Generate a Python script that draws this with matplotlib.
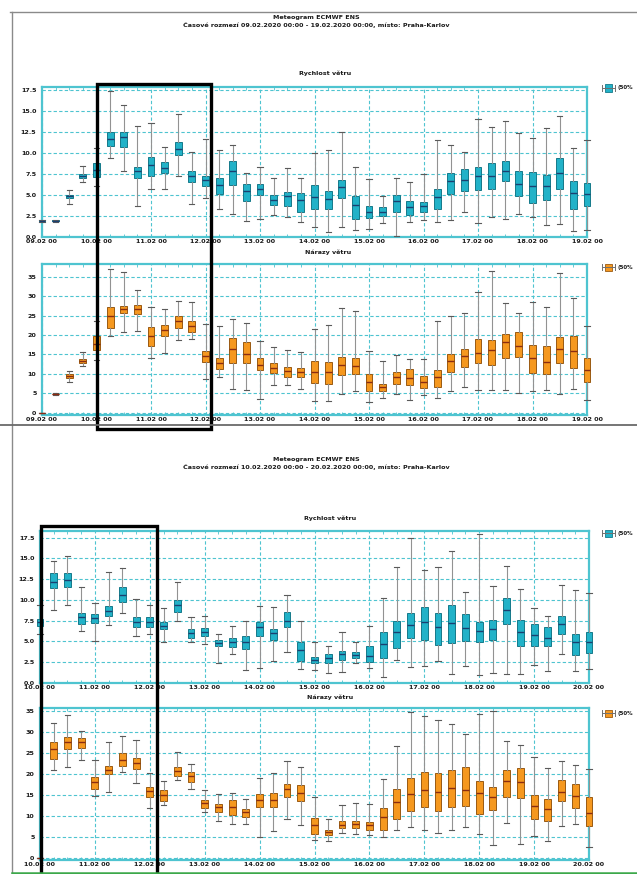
import matplotlib
matplotlib.use('Agg')
import matplotlib.pyplot as plt
from matplotlib.patches import Rectangle
from matplotlib.lines import Line2D

# ---------------- data ----------------
days_top = ['09.02 00', '10.02 00', '11.02 00', '12.02 00', '13.02 00', '14.02 00',
            '15.02 00', '16.02 00', '17.02 00', '18.02 00', '19.02 00']
days_bot = ['10.02 00', '11.02 00', '12.02 00', '13.02 00', '14.02 00', '15.02 00',
            '16.02 00', '17.02 00', '18.02 00', '19.02 00', '20.02 00']

# Top meteogram - wind speed (m/s)
ws1_lo = [1.8, 1.8, 3.9, 6.5, 6.05, 9.4, 7.9, 3.7, 5.65, 5.7, 7.2, 3.9, 4.6, 3.3, 2.7, 1.9, 2.05, 2.6, 2.3, 1.7,
          1.2, 0.55, 1.15, 0.75, 0.9, 1.6, 0.1, 1.8, 2.0, 1.8, 1.95, 2.9, 1.6, 2.4, 2.1, 2.75, 2.3, 1.4, 1.5, 0.7, 0.75]
ws1_q1 = [1.85, 1.85, 4.6, 7.0, 7.1, 10.8, 10.75, 7.05, 7.3, 7.6, 9.8, 6.5, 6.0, 5.05, 6.15, 4.3, 5.0, 3.75, 3.7, 3.0,
          3.25, 3.25, 4.65, 2.15, 2.25, 2.45, 2.95, 2.6, 3.0, 3.25, 5.1, 5.5, 5.55, 5.65, 6.65, 4.8, 4.0, 4.4, 5.75, 3.35, 3.6]
ws1_med = [1.9, 1.9, 4.8, 7.2, 7.95, 11.65, 11.9, 7.8, 8.6, 8.2, 10.5, 7.2, 6.8, 6.2, 7.8, 5.5, 5.7, 4.4, 4.8, 4.4,
           4.7, 4.5, 5.9, 3.8, 3.0, 3.0, 4.2, 3.5, 3.6, 4.7, 6.6, 6.8, 7.2, 7.2, 7.85, 6.25, 6.0, 6.0, 7.6, 5.2, 5.1]
ws1_q3 = [1.95, 1.95, 5.0, 7.5, 8.75, 12.5, 12.55, 8.35, 9.55, 8.9, 11.3, 7.8, 7.3, 7.0, 9.0, 6.35, 6.3, 5.0, 5.35, 5.2,
          6.2, 5.5, 6.75, 4.8, 3.6, 3.55, 4.95, 4.3, 4.1, 5.65, 7.6, 8.05, 8.35, 8.85, 9.0, 7.8, 7.7, 7.35, 9.45, 6.7, 6.4]
ws1_hi = [2.0, 2.0, 5.6, 8.4, 10.6, 17.4, 15.7, 13.25, 13.6, 10.75, 14.7, 10.1, 11.65, 10.35, 10.9, 7.55, 8.35, 7.0, 8.2, 7.0,
          10.0, 10.35, 12.55, 8.35, 6.9, 4.8, 7.05, 6.55, 7.45, 11.6, 10.9, 10.1, 14.1, 13.1, 13.8, 12.45, 11.75, 13.05, 14.4, 10.55, 11.5]

# Top meteogram - wind gusts (m/s)
wg1_lo = [0.0, 4.6, 7.9, 12.0, 13.5, 19.7, 20.9, 21.0, 14.1, 15.4, 18.6, 19.1, 8.8, 9.2, 6.0, 5.8, 3.6, 7.0, 7.0, 6.1,
          2.9, 2.9, 4.7, 5.6, 2.75, 3.75, 4.7, 3.35, 4.6, 3.85, 5.6, 6.6, 5.8, 5.8, 5.8, 5.1, 5.7, 5.8, 4.8, 6.0, 3.25]
wg1_q1 = [0.0, 4.7, 9.0, 12.8, 16.1, 21.8, 25.7, 25.3, 17.3, 19.7, 21.7, 20.7, 13.1, 11.3, 12.8, 12.7, 10.95, 10.1, 9.25, 9.25,
          7.7, 7.35, 9.6, 9.9, 5.5, 5.65, 7.45, 7.0, 6.4, 6.5, 10.5, 11.7, 12.75, 12.2, 14.2, 14.4, 10.25, 9.85, 12.75, 11.6, 7.9]
wg1_med = [0.0, 4.8, 9.4, 13.4, 17.8, 24.8, 26.6, 26.6, 19.8, 21.2, 23.5, 22.2, 14.5, 12.8, 16.5, 15.2, 12.4, 11.55, 10.8, 10.35,
           10.6, 10.5, 12.4, 12.05, 7.8, 6.7, 9.25, 9.0, 7.95, 9.15, 13.35, 14.5, 15.4, 16.25, 18.1, 17.1, 14.2, 13.1, 16.5, 15.8, 11.1]
wg1_q3 = [0.0, 4.9, 9.9, 13.9, 19.75, 27.2, 27.5, 27.8, 22.1, 22.5, 25.0, 23.7, 15.8, 14.0, 19.2, 18.2, 14.0, 12.75, 11.8, 11.4,
          13.4, 13.0, 14.4, 14.0, 9.85, 7.45, 10.6, 11.2, 9.4, 10.95, 15.2, 16.3, 18.9, 18.8, 20.3, 20.8, 17.45, 17.1, 19.5, 19.85, 14.2]
wg1_hi = [0.0, 5.0, 10.8, 15.65, 23.5, 37.1, 36.2, 31.7, 27.1, 26.7, 28.7, 28.4, 22.9, 22.2, 24.1, 23.2, 18.5, 16.8, 16.25, 15.6,
          21.6, 22.6, 27.0, 26.3, 16.0, 13.2, 14.9, 13.8, 13.9, 23.5, 24.9, 25.8, 31.05, 36.6, 28.2, 25.8, 28.5, 27.3, 35.9, 29.6, 22.3]

# Bottom meteogram - wind speed (m/s)
ws2_lo = [5.95, 8.75, 9.35, 6.25, 5.0, 7.0, 8.45, 5.7, 5.9, 4.95, 7.45, 4.95, 4.7, 2.35, 3.5, 1.6, 1.8, 2.65, 3.75, 1.7,
          1.6, 1.25, 1.35, 2.4, 1.85, 0.7, 2.75, 1.9, 2.0, 2.6, 1.1, 2.0, 0.95, 1.2, 1.1, 1.1, 2.15, 1.4, 3.55, 1.5, 1.65]
ws2_q1 = [6.9, 11.4, 11.6, 7.15, 7.2, 8.05, 9.75, 6.7, 6.8, 6.45, 8.6, 5.45, 5.65, 4.4, 4.35, 4.15, 5.7, 5.15, 6.8, 2.65,
          2.4, 2.45, 2.8, 2.95, 2.5, 3.0, 4.25, 5.4, 5.2, 4.55, 4.85, 5.0, 4.95, 5.2, 7.15, 4.5, 4.45, 4.5, 5.9, 3.35, 3.65]
ws2_med = [7.3, 12.1, 12.45, 7.9, 7.8, 8.7, 10.6, 7.4, 7.4, 6.9, 9.35, 6.0, 6.15, 4.85, 4.95, 4.9, 6.8, 6.0, 7.5, 3.95,
           2.8, 3.0, 3.5, 3.35, 3.2, 4.7, 6.2, 7.0, 7.4, 6.8, 7.2, 6.6, 6.3, 6.5, 8.75, 6.1, 5.8, 5.4, 7.05, 4.95, 4.95]
ws2_q3 = [7.7, 13.2, 13.2, 8.45, 8.25, 9.25, 11.55, 7.95, 7.95, 7.3, 10.0, 6.55, 6.6, 5.2, 5.4, 5.7, 7.35, 6.5, 8.5, 4.95,
          3.15, 3.5, 3.9, 3.75, 4.4, 6.1, 7.45, 8.4, 9.2, 8.4, 9.4, 8.35, 7.35, 7.55, 10.2, 7.6, 7.05, 6.8, 8.05, 5.9, 6.2]
ws2_hi = [9.4, 14.7, 15.3, 11.6, 9.65, 13.4, 13.9, 10.1, 9.35, 9.0, 12.15, 7.9, 8.05, 5.9, 6.85, 7.45, 9.25, 9.15, 10.65, 7.5,
          4.95, 4.5, 6.2, 4.95, 6.85, 10.25, 13.95, 17.5, 13.55, 13.95, 15.9, 10.9, 17.95, 11.7, 14.05, 11.3, 9.0, 8.05, 11.85, 11.15, 10.85]

# Bottom meteogram - wind gusts (m/s)
wg2_lo = [0.0, 21.05, 21.7, 23.45, 14.8, 15.8, 20.4, 17.85, 12.0, 12.55, 18.5, 16.5, 10.95, 8.8, 8.0, 8.1, 5.05, 6.5, 9.35, 7.9,
          4.3, 4.1, 6.0, 5.85, 5.5, 5.05, 6.65, 7.35, 6.65, 6.0, 6.65, 7.45, 5.85, 3.05, 8.4, 3.3, 5.2, 4.0, 7.6, 8.0, 2.65]
wg2_q1 = [0.0, 23.6, 26.0, 26.25, 16.5, 20.1, 22.0, 21.3, 14.5, 13.6, 19.6, 18.2, 11.9, 11.05, 10.3, 9.7, 12.1, 12.1, 14.65, 13.7,
          5.85, 5.6, 7.05, 7.2, 6.8, 6.8, 9.2, 11.3, 12.1, 11.2, 12.2, 12.5, 10.55, 11.45, 14.65, 14.2, 9.2, 8.8, 13.55, 12.0, 7.7]
wg2_med = [0.0, 25.85, 27.7, 27.6, 18.0, 21.05, 23.45, 22.65, 16.0, 14.9, 20.65, 19.45, 13.0, 12.1, 12.25, 10.9, 13.85, 13.85, 16.5, 15.55,
           7.85, 6.25, 7.9, 8.0, 7.85, 9.85, 13.45, 15.2, 16.2, 15.8, 16.65, 16.25, 15.45, 14.5, 18.25, 18.0, 12.4, 11.75, 15.8, 14.8, 10.65]
wg2_q3 = [0.0, 27.6, 28.8, 28.65, 19.3, 21.85, 24.9, 23.85, 16.9, 16.1, 21.7, 20.4, 13.85, 12.9, 13.75, 11.6, 15.3, 15.4, 17.7, 17.3,
          9.5, 6.8, 8.9, 8.8, 8.65, 12.0, 16.5, 19.05, 20.5, 20.35, 20.9, 21.7, 18.4, 16.9, 21.05, 21.4, 14.9, 14.0, 18.65, 17.6, 14.65]
wg2_hi = [0.0, 32.1, 34.0, 30.25, 23.3, 27.7, 29.05, 28.0, 20.25, 18.4, 25.2, 22.4, 16.1, 15.2, 15.5, 14.1, 19.1, 20.25, 23.15, 21.7,
          14.6, 9.2, 12.65, 13.05, 12.95, 18.9, 26.65, 34.65, 33.7, 32.9, 31.9, 29.4, 34.2, 34.9, 27.8, 26.8, 24.1, 21.4, 23.0, 22.2, 21.3]

ws_ticks = [0.0, 2.5, 5.0, 7.5, 10.0, 12.5, 15.0, 17.5]
ws_labels = ['0.0', '2.5', '5.0', '7.5', '10.0', '12.5', '15.0', '17.5']
wg_ticks = [0, 5, 10, 15, 20, 25, 30, 35]
wg_labels = ['0', '5', '10', '15', '20', '25', '30', '35']
legend_label = '(50%'

# ---------------- figure ----------------
W, H = 637, 874
fig = plt.figure(figsize=(W / 100, H / 100), dpi=100)
fig.patch.set_facecolor('white')

TEAL = '#4ec4d0'
FONT = dict(fontsize=4.6, fontweight='bold', color='#1a1a1a')


def rect(l, t, r, b):
    return [l / W, 1 - b / H, (r - l) / W, (b - t) / H]


def fx(x):
    return x / W


def fy(y):
    return 1 - y / H


def panel(pos, lo, q1, med, q3, hi, ylim, yticks, ylabels, xlabels, face, edge, medc):
    ax = fig.add_axes(rect(*pos))
    stats = [dict(whislo=a, q1=b, med=c, q3=d, whishi=e)
             for a, b, c, d, e in zip(lo, q1, med, q3, hi)]
    art = ax.bxp(stats, positions=list(range(len(stats))), widths=0.5, capwidths=0.38,
                 patch_artist=True, showfliers=False, manage_ticks=False,
                 boxprops=dict(facecolor=face, edgecolor=edge, linewidth=0.7),
                 whiskerprops=dict(color='#929292', linewidth=0.8),
                 capprops=dict(color='#5a5a5a', linewidth=0.8),
                 medianprops=dict(color=medc, linewidth=1.0))
    for k, v in art.items():
        for a in v:
            a.set_clip_on(False)
            a.set_zorder(3)
    n = len(stats) - 1
    ax.set_xlim(0, n)
    ax.set_ylim(*ylim)
    ax.set_xticks(list(range(0, n + 1, 4)))
    ax.set_xticklabels(xlabels, **FONT)
    ax.set_xticks(list(range(0, n + 1)), minor=True)
    ax.set_yticks(yticks)
    ax.set_yticklabels(ylabels, **FONT)
    ax.tick_params(axis='y', length=0, pad=4)
    ax.tick_params(axis='x', which='major', length=0, pad=1.5)
    ax.tick_params(axis='x', which='minor', direction='in', length=2.5, width=0.6,
                   color=TEAL, top=True, bottom=True)
    ax.set_axisbelow(True)
    ax.grid(True, which='major', color=TEAL, linestyle=(0, (3, 2)), linewidth=0.8)
    for s in ax.spines.values():
        s.set_color(TEAL)
        s.set_linewidth(1.6)
        s.set_zorder(2)
    return ax


TFACE, TEDGE, TMED = '#22b2c8', '#157a8a', '#1b3f70'
OFACE, OEDGE, OMED = '#f5981f', '#9a5a12', '#8a2c12'

panel((42, 87, 587, 237), ws1_lo, ws1_q1, ws1_med, ws1_q3, ws1_hi, (-0.05, 17.9),
      ws_ticks, ws_labels, days_top, TFACE, TEDGE, TMED)
panel((42, 264, 587, 415), wg1_lo, wg1_q1, wg1_med, wg1_q3, wg1_hi, (-0.6, 38.3),
      wg_ticks, wg_labels, days_top, OFACE, OEDGE, OMED)
panel((40, 531, 589, 683), ws2_lo, ws2_q1, ws2_med, ws2_q3, ws2_hi, (0.39, 18.3),
      ws_ticks, ws_labels, days_bot, TFACE, TEDGE, TMED)
panel((40, 708, 589, 860), wg2_lo, wg2_q1, wg2_med, wg2_q3, wg2_hi, (-0.45, 35.7),
      wg_ticks, wg_labels, days_bot, OFACE, OEDGE, OMED)

# titles
fig.text(fx(316), fy(17), 'Meteogram ECMWF ENS', ha='center', va='center', **FONT)
fig.text(fx(316), fy(25), 'Časové rozmezí 09.02.2020 00:00 - 19.02.2020 00:00, místo: Praha-Karlov',
         ha='center', va='center', **FONT)
fig.text(fx(325), fy(73), 'Rychlost větru', ha='center', va='center', **FONT)
fig.text(fx(328), fy(252), 'Nárazy větru', ha='center', va='center', **FONT)

fig.text(fx(316), fy(460), 'Meteogram ECMWF ENS', ha='center', va='center', **FONT)
fig.text(fx(316), fy(467), 'Časové rozmezí 10.02.2020 00:00 - 20.02.2020 00:00, místo: Praha-Karlov',
         ha='center', va='center', **FONT)
fig.text(fx(330), fy(518), 'Rychlost větru', ha='center', va='center', **FONT)
fig.text(fx(330), fy(697), 'Nárazy větru', ha='center', va='center', **FONT)


# legend stubs
def legend(y, face, edge):
    fig.add_artist(Line2D([fx(602), fx(615)], [fy(y), fy(y)], color='#707070', lw=0.7))
    fig.add_artist(Line2D([fx(602), fx(602)], [fy(y - 3), fy(y + 3)], color='#707070', lw=0.7))
    fig.add_artist(Line2D([fx(615), fx(615)], [fy(y - 3), fy(y + 3)], color='#707070', lw=0.7))
    fig.add_artist(Rectangle((fx(605), fy(y + 3.5)), 7 / W, 7 / H, facecolor=face,
                             edgecolor=edge, lw=0.6))
    fig.text(fx(617), fy(y), legend_label, ha='left', va='center',
             fontsize=4.0, fontweight='bold', color='#1a1a1a')


legend(88, TFACE, TEDGE)
legend(267, OFACE, OEDGE)
legend(533, TFACE, TEDGE)
legend(713, OFACE, OEDGE)

# screenshot borders
fig.add_artist(Line2D([fx(12), fx(12)], [fy(12), fy(874)], color='#8a8a8a', lw=1.0))
fig.add_artist(Line2D([fx(10), fx(637)], [fy(12), fy(12)], color='#8a8a8a', lw=1.0))
fig.add_artist(Line2D([fx(0), fx(637)], [fy(425), fy(425)], color='#6a6a6a', lw=1.3))
fig.add_artist(Line2D([fx(12), fx(637)], [fy(872.5), fy(872.5)], color='#3ca84a', lw=1.8))

# black highlight rectangles
fig.add_artist(Rectangle((fx(97), fy(429)), (211 - 97) / W, (429 - 84) / H,
                         fill=False, edgecolor='black', lw=2.4))
fig.add_artist(Rectangle((fx(41), fy(884)), (157 - 41) / W, (884 - 526) / H,
                         fill=False, edgecolor='black', lw=2.4))

fig.savefig('out.png', dpi=100, facecolor='white')
